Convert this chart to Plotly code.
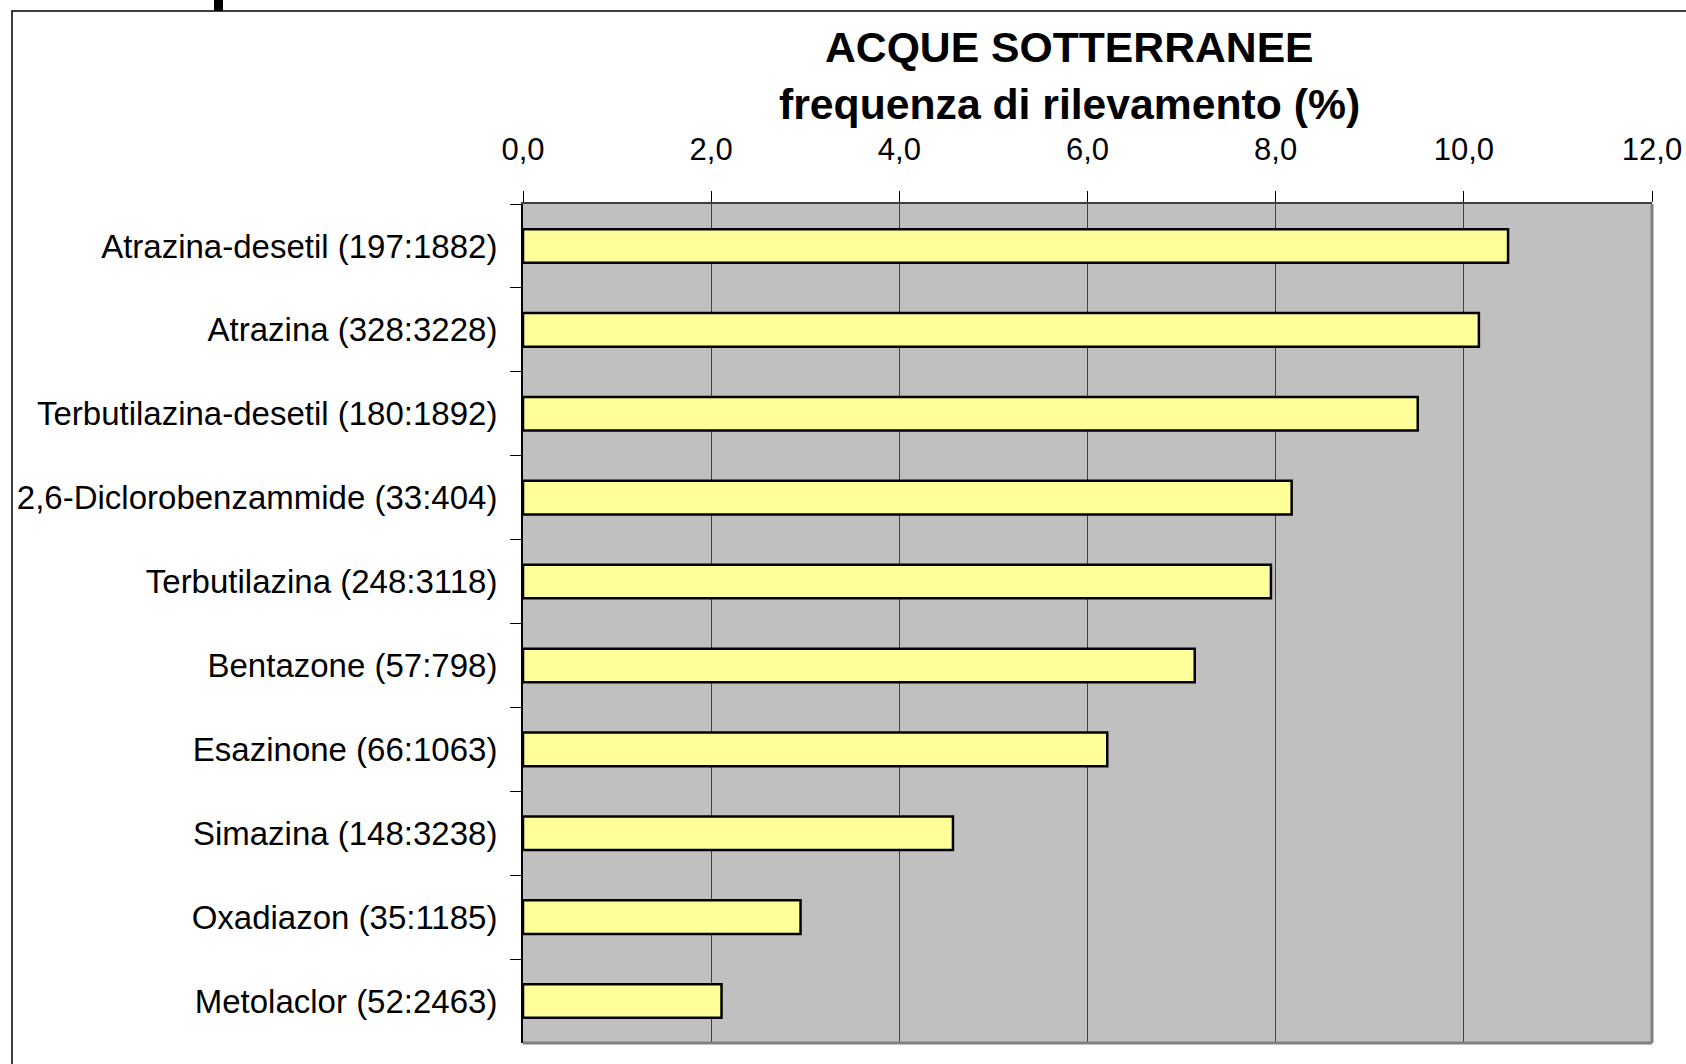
import plotly.graph_objects as go

categories = [
    "Atrazina-desetil (197:1882)",
    "Atrazina (328:3228)",
    "Terbutilazina-desetil (180:1892)",
    "2,6-Diclorobenzammide (33:404)",
    "Terbutilazina (248:3118)",
    "Bentazone (57:798)",
    "Esazinone (66:1063)",
    "Simazina (148:3238)",
    "Oxadiazon (35:1185)",
    "Metolaclor (52:2463)",
]
values = [10.47, 10.16, 9.51, 8.17, 7.95, 7.14, 6.21, 4.57, 2.95, 2.11]
x_ticks = [0, 2, 4, 6, 8, 10, 12]
title_line1 = "ACQUE SOTTERRANEE"
title_line2 = "frequenza di rilevamento (%)"

W, H = 1686, 1064
L, R, T, B = 523, 1652, 204, 1043
FONT = "Liberation Sans"


def px(x):
    return (x - L) / (R - L)


def py(y):
    return 1 - (y - T) / (B - T)


fig = go.Figure(
    go.Bar(
        x=values,
        y=categories,
        orientation="h",
        width=0.4,
        marker=dict(color="#FFFF99", line=dict(color="black", width=2.5)),
        hoverinfo="x+y",
    )
)

fig.update_layout(
    width=W,
    height=H,
    margin=dict(l=L, r=W - R, t=T, b=H - B, pad=0, autoexpand=False),
    paper_bgcolor="white",
    plot_bgcolor="#C0C0C0",
    separators=",.",
    showlegend=False,
    font=dict(family=FONT, color="black"),
    bargap=0.6,
)

fig.update_xaxes(
    side="top",
    range=[0, 12],
    tickvals=x_ticks,
    tickformat=".1f",
    showgrid=True,
    gridcolor="#404040",
    gridwidth=1,
    zeroline=False,
    showline=True,
    linecolor="#404040",
    linewidth=2,
    ticks="outside",
    ticklen=11,
    tickwidth=1,
    tickcolor="black",
    tickfont=dict(size=31, family=FONT, color="black"),
    ticklabelstandoff=19,
    automargin=False,
    fixedrange=True,
)

fig.update_yaxes(
    type="category",
    categoryorder="array",
    categoryarray=categories,
    autorange="reversed",
    showgrid=False,
    zeroline=False,
    showline=True,
    linecolor="black",
    linewidth=2,
    ticks="outside",
    tickson="boundaries",
    ticklen=11,
    tickwidth=1,
    tickcolor="black",
    tickfont=dict(size=33, family=FONT, color="black"),
    ticklabelstandoff=17,
    automargin=False,
    fixedrange=True,
)

shapes = [
    # outer frame
    dict(type="rect", xref="paper", yref="paper",
         x0=px(12), x1=px(W + 20), y0=py(H + 20), y1=py(11),
         line=dict(color="black", width=1.5), fillcolor="rgba(0,0,0,0)", layer="below"),
    # black stub at the top
    dict(type="rect", xref="paper", yref="paper",
         x0=px(214), x1=px(223), y0=py(11), y1=py(-2),
         line=dict(width=0), fillcolor="black"),
    # right border of the plot area
    dict(type="line", xref="paper", yref="paper",
         x0=1, x1=1, y0=0, y1=1, line=dict(color="#808080", width=3)),
    # bottom border of the plot area
    dict(type="line", xref="paper", yref="paper",
         x0=0, x1=1, y0=0, y1=0, line=dict(color="#808080", width=3)),
]
fig.update_layout(shapes=shapes)

fig.add_annotation(
    text="<b>" + title_line1 + "</b>", xref="paper", yref="paper",
    x=px(1069), y=py(47), xanchor="center", yanchor="middle",
    showarrow=False, font=dict(size=42.7, family=FONT, color="black"),
)
fig.add_annotation(
    text="<b>" + title_line2 + "</b>", xref="paper", yref="paper",
    x=px(1069), y=py(104), xanchor="center", yanchor="middle",
    showarrow=False, font=dict(size=42.7, family=FONT, color="black"),
)

fig.write_html(
    "out.html",
    config={"displayModeBar": False},
    post_script="document.body.style.margin='0';document.body.style.overflow='hidden';",
)
